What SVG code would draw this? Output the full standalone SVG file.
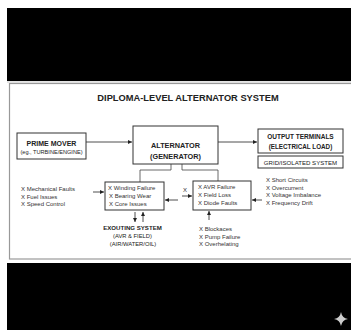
<svg xmlns="http://www.w3.org/2000/svg" width="351" height="330" viewBox="0 0 351 330">
  <defs>
    <marker id="ah" viewBox="0 0 10 10" refX="10" refY="5" markerWidth="4" markerHeight="4" orient="auto" markerUnits="userSpaceOnUse">
      <path d="M0,0 L10,5 L0,10 z" fill="#222"/>
    </marker>
    <style>
      text { font-family: "Liberation Sans", Arial, sans-serif; fill: #222; }
      .title { font-size: 9.3px; font-weight: bold; text-anchor: middle; }
      .bold { font-weight: bold; text-anchor: middle; }
      .mid { text-anchor: middle; }
      .item { font-size: 6px; fill: #333; }
      .box { fill: #fff; stroke: #333; stroke-width: 1; }
      .wire { fill: none; stroke: #444; stroke-width: 0.8; }
      .arrow { fill: none; stroke: #222; stroke-width: 0.8; marker-end: url(#ah); }
    </style>
  </defs>

  <!-- page background and black bands -->
  <rect x="0" y="0" width="351" height="330" fill="#fff"/>
  <rect x="7" y="8" width="344" height="73" fill="#000"/>
  <rect x="7" y="263" width="344" height="67" fill="#000"/>
  <rect x="9.5" y="83.5" width="345" height="175.5" fill="#fff" stroke="#999" stroke-width="1.2"/>
  <line x1="7" y1="82" x2="351" y2="82" stroke="#bbb" stroke-width="0.8"/>

  <text class="title" x="188" y="101">DIPLOMA-LEVEL ALTERNATOR SYSTEM</text>

  <!-- connectors -->
  <g id="connectors">
    <line class="arrow" x1="86" y1="142" x2="132" y2="142"/>
    <line class="arrow" x1="218" y1="142" x2="257" y2="142"/>
    <path class="wire" d="M171,164 V170 H140 V182"/>
    <path class="wire" d="M182,164 V170 H218 V181"/>
    <line class="arrow" x1="93" y1="192" x2="104" y2="192"/>
    <line class="arrow" x1="178" y1="200" x2="165" y2="200"/>
    <line class="arrow" x1="182" y1="196" x2="192" y2="196"/>
    <line class="arrow" x1="262" y1="200" x2="252" y2="200"/>
    <line class="arrow" x1="209" y1="220" x2="209" y2="211"/>
    <line class="arrow" x1="135" y1="212" x2="135" y2="222"/>
    <line class="arrow" x1="143" y1="222" x2="143" y2="212"/>
    <text class="item" x="183" y="192">X</text>
  </g>

  <g id="prime-mover">
    <rect class="box" x="17" y="133" width="69" height="26"/>
    <text class="bold" x="51.5" y="146" font-size="7">PRIME MOVER</text>
    <text class="mid" x="51.5" y="154" font-size="5.6" fill="#444">(eg., TURBINE/ENGINE)</text>
  </g>

  <g id="alternator">
    <rect class="box" x="133" y="126" width="85" height="38"/>
    <text class="bold" x="175.5" y="148" font-size="7.3">ALTERNATOR</text>
    <text class="bold" x="175.5" y="159" font-size="7.3">(GENERATOR)</text>
  </g>

  <g id="output-terminals">
    <rect class="box" x="258" y="129" width="85" height="24"/>
    <text class="bold" x="300.5" y="139" font-size="6.5">OUTPUT TERMINALS</text>
    <text class="bold" x="300.5" y="148.5" font-size="6.3">(ELECTRICAL LOAD)</text>
  </g>

  <g id="grid-system">
    <rect class="box" x="258" y="156" width="85" height="12"/>
    <text class="mid" x="300.5" y="164.5" font-size="6.1" fill="#333">GRID/ISOLATED SYSTEM</text>
  </g>

  <g id="prime-mover-faults">
    <text class="item" x="21" y="191">X Mechanical Faults</text>
    <text class="item" x="21" y="198.5">X Fuel Issues</text>
    <text class="item" x="21" y="206">X Speed Control</text>
  </g>

  <g id="stator-faults">
    <rect class="box" x="105" y="182" width="59" height="28"/>
    <text class="item" x="108" y="190">X  Winding Failure</text>
    <text class="item" x="109" y="198">X Bearing Wear</text>
    <text class="item" x="109" y="206">X Core Issues</text>
  </g>

  <g id="excitation-system">
    <text class="bold" x="132.5" y="230" font-size="6.1">EXOUTING SYSTEM</text>
    <text class="mid" x="132.5" y="237.5" font-size="5.8" fill="#444">(AVR &amp; FIELD)</text>
    <text class="mid" x="133" y="245.5" font-size="5.8" fill="#444">(AIR/WATER/OIL)</text>
  </g>

  <g id="excitation-faults">
    <rect class="box" x="193" y="181" width="58" height="29"/>
    <text class="item" x="198" y="189">X AVR Failure</text>
    <text class="item" x="198" y="197">X Field Loss</text>
    <text class="item" x="198" y="205">X Diode Faults</text>
  </g>

  <g id="output-faults">
    <text class="item" x="266" y="182">X Short Circuits</text>
    <text class="item" x="266" y="189.5">X Overcurrent</text>
    <text class="item" x="266" y="197">X Voltage Imbalance</text>
    <text class="item" x="266" y="204.5">X Frequency Drift</text>
  </g>

  <g id="cooling-faults">
    <text class="item" x="199" y="231">X Blockaces</text>
    <text class="item" x="199" y="238.5">X Pump Failure</text>
    <text class="item" x="199" y="246">X Overhelating</text>
  </g>

  <!-- corner sparkle -->
  <path d="M341,312 Q342,318 348,319 Q342,320 341,326 Q340,320 334,319 Q340,318 341,312 z" fill="#ccc"/>
</svg>
